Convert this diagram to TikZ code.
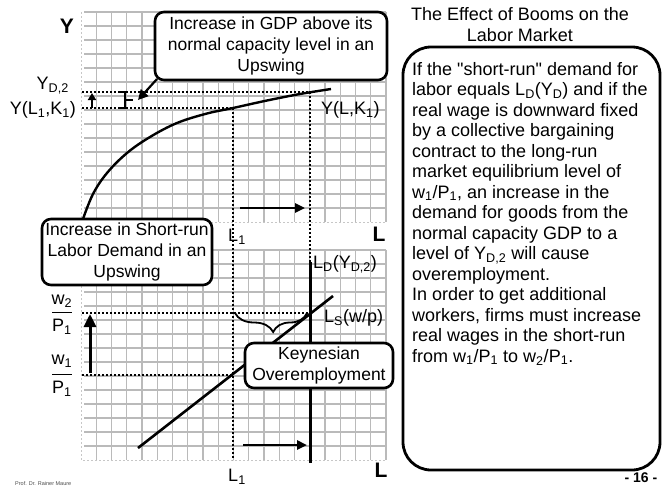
\documentclass[tikz,border=0pt]{standalone}
\usepackage{fontspec}
\setmainfont{Liberation Sans}
\usetikzlibrary{arrows.meta,decorations.pathreplacing}
\newcommand{\sbs}[1]{\textsubscript{#1}}
\begin{document}
\begin{tikzpicture}[x=1pt,y=-1pt,
  gridline/.style={draw=black!27, line width=1.3pt},
  gridedge/.style={draw=black!22, line width=1pt, dash pattern=on 1.5pt off 2.5pt},
  dotline/.style={line width=2pt, dash pattern=on 2pt off 2pt},
  callout/.style={draw, line width=2.6pt, rounded corners=9pt, fill=white, align=center, inner sep=0pt, font=\fontsize{17.5}{21}\selectfont},
  lbl/.style={inner sep=0pt, font=\fontsize{18}{21}\selectfont},
  axislbl/.style={inner sep=0pt, font=\fontsize{21}{24}\selectfont\bfseries},
  arr/.style={line width=2.4pt, -{Triangle[length=10pt,width=9pt]}},
  curveline/.style={line width=2.4pt}]
\useasboundingbox (0,0) rectangle (664,488);
\fill[white] (0,0) rectangle (664,488);
% ---------- grids ----------
\foreach \k in {1,...,20} {
  \draw[gridline] ({81+15.25*\k},12) -- ({81+15.25*\k},222);
  \draw[gridline] ({81+15.25*\k},250) -- ({81+15.25*\k},460);
}
\foreach \k in {0,...,14} {
  \draw[gridline] (84,{12+14*\k}) -- (386,{12+14*\k});
  \draw[gridline] (84,{250+14*\k}) -- (386,{250+14*\k});
}
\draw[gridedge] (81,12) -- (81,222) -- (386,222);
\draw[gridedge] (81,250) -- (81,460) -- (386,460);
% ---------- coordinates ----------
\coordinate (yd2L) at (82,92);   \coordinate (yd2R) at (310,92);
\coordinate (y1L) at (82,108);   \coordinate (y1R) at (233,108);
\coordinate (l1bot) at (233,460);
\coordinate (ldtop) at (310,262); \coordinate (ldbot) at (310,463);
\coordinate (w2L) at (82,313);   \coordinate (w2R) at (310,313);
\coordinate (w1L) at (82,375);   \coordinate (w1R) at (233,375);
\coordinate (lsA) at (138,448);  \coordinate (lsB) at (333,296);
% ---------- dotted guides ----------
\draw[dotline] (yd2L) -- (yd2R);
\draw[dotline] (y1L) -- (y1R);
\draw[dotline] (yd2R) -- (ldtop);
\draw[dotline] (y1R) -- (l1bot);
\draw[dotline] (w2L) -- (w2R);
\draw[dotline] (w1L) -- (w1R);
% ---------- production function ----------
\draw[curveline] plot[smooth, tension=0.6] coordinates {(83,219) (93,194) (107,173) (127,153) (150,137) (177,123) (207,113.5) (233,108) (267,100.5) (300,94) (331,89)};
% ---------- lower panel lines ----------
\draw[line width=3pt] (ldtop) -- (ldbot);
\draw[line width=2.6pt] (lsA) -- (lsB);
% ---------- brace ----------
\coordinate (brR) at (307,313); \coordinate (brL) at (235,313);
\draw[line width=1.8pt, decorate, decoration={brace, amplitude=19pt, aspect=0.47}] (brR) -- (brL);
% ---------- small bracket and arrows ----------
\draw[line width=2pt] (118,92) -- (125,92) -- (125,108) -- (118,108);
\coordinate (tickA) at (125,100); \coordinate (tickB) at (133,100);
\draw[line width=2pt] (tickA) -- (tickB);
\coordinate (upA) at (92,108); \coordinate (upB) at (92,93);
\draw[line width=2pt, -{Triangle[length=7pt,width=8pt]}] (upA) -- (upB);
\coordinate (bigA) at (90,373); \coordinate (bigB) at (90,314);
\draw[line width=3pt, -{Triangle[length=13pt,width=12pt]}] (bigA) -- (bigB);
\coordinate (r1A) at (240,208); \coordinate (r1B) at (305,208);
\draw[arr] (r1A) -- (r1B);
\coordinate (r2A) at (243,445); \coordinate (r2B) at (307,445);
\draw[arr] (r2A) -- (r2B);
% ---------- callouts ----------
\node[callout, minimum width=232pt, minimum height=68pt] (gdpbox) at (271,46)
  {Increase in GDP above its\\normal capacity level in an\\Upswing};
\coordinate (gdptip) at (138,100);
\draw[line width=2.2pt, -{Triangle[length=10pt,width=10pt]}] (157,79) -- (gdptip);
\node[callout, minimum width=170pt, minimum height=66pt] (srbox) at (127,252)
  {Increase in Short-run\\Labor Demand in an\\Upswing};
\node[callout, minimum width=148pt, minimum height=45pt] (keybox) at (319,365.5)
  {Keynesian\\Overemployment};
% ---------- labels ----------
\node[axislbl] (ylab) at (67,26) {Y};
\node[axislbl] (lup) at (379,234) {L};
\node[axislbl] (llow) at (381,470) {L};
\node[lbl, anchor=east] (yd2lab) at (69,86) {Y\sbs{D,2}};
\node[lbl, anchor=east] (y1lab) at (76,110) {Y(L\sbs{1},K\sbs{1})};
\node[lbl, anchor=west] (ylk) at (321,110) {Y(L,K\sbs{1})};
\node[lbl] (l1up) at (237,237) {L\sbs{1}};
\node[lbl] (l1low) at (237,477) {L\sbs{1}};
\node[lbl, anchor=west] (ldlab) at (313,264) {L\sbs{D}(Y\sbs{D,2})};
\node[lbl, anchor=west] (lslab) at (324,318) {L\sbs{S}(w/p)};
\node[lbl] (w2n) at (62,301) {w\sbs{2}};
\node[lbl] (p1n) at (62,327) {P\sbs{1}};
\draw[line width=1pt] (52,312) -- (72,312);
\node[lbl] (w1n) at (62,361) {w\sbs{1}};
\node[lbl] (p1m) at (62,389) {P\sbs{1}};
\draw[line width=1pt] (52,374) -- (72,374);
% ---------- right side ----------
\node[lbl, align=center] (title) at (520,25) {The Effect of Booms on the\\Labor Market};
\node[draw, line width=2.8pt, rounded corners=28pt, minimum width=257pt, minimum height=423pt, inner sep=0pt] (textbox) at (531.5,258.5) {};
\node[anchor=north west, inner sep=0pt, align=left, font=\fontsize{18}{20.5}\selectfont] (para) at (412,62)
 {If the \textquotedbl short-run\textquotedbl{} demand for\\
  labor equals L\sbs{D}(Y\sbs{D}) and if the\\
  real wage is downward fixed\\
  by a collective bargaining\\
  contract to the long-run\\
  market equilibrium level of\\
  w\sbs{1}/P\sbs{1}, an increase in the\\
  demand for goods from the\\
  normal capacity GDP to a\\
  level of Y\sbs{D,2} will cause\\
  overemployment.\\
  In order to get additional\\
  workers, firms must increase\\
  real wages in the short-run\\
  from w\sbs{1}/P\sbs{1} to w\sbs{2}/P\sbs{1}.};
\node[inner sep=0pt, font=\fontsize{14}{16}\selectfont\bfseries] (pageno) at (641,478) {- 16 -};
\node[inner sep=0pt, anchor=west, text=black!70, font=\fontsize{5.5}{6}\selectfont] (author) at (15,484) {Prof. Dr. Rainer Maure};
\end{tikzpicture}
\end{document}
